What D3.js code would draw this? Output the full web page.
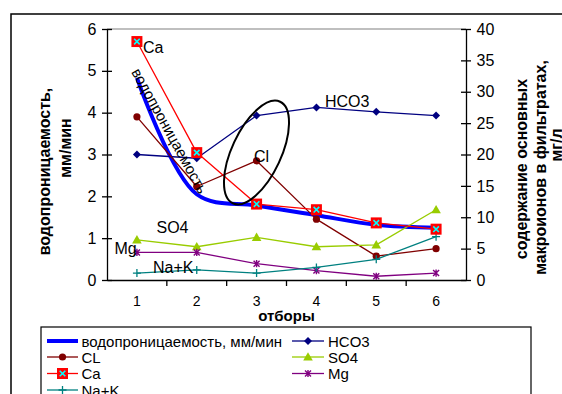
<!DOCTYPE html>
<html><head><meta charset="utf-8">
<script src="https://cdn.jsdelivr.net/npm/d3@7"></script>
<style>
html,body{margin:0;padding:0;background:#fff;}
svg{display:block;font-family:"Liberation Sans",Arial,sans-serif;}
</style></head>
<body>
<svg id="c" width="562" height="394"></svg>
<script>
// ---- data ----
const categories = ["1","2","3","4","5","6"];
const permeability = [4.83, 2.05, 1.78, 1.55, 1.32, 1.25];   // left axis, мм/мин
const hco3 = [20.0, 19.4, 26.2, 27.5, 26.8, 26.2];
const cl   = [26.0, 14.9, 19.0, 9.7, 3.8, 5.0];
const so4  = [6.4, 5.3, 6.8, 5.3, 5.6, 11.2];
const ca   = [38.0, 20.3, 12.1, 11.2, 9.1, 8.1];
const mg   = [4.4, 4.4, 2.6, 1.5, 0.6, 1.1];
const nak  = [1.1, 1.6, 1.1, 2.0, 3.3, 6.9];
const leftTicks = [0,1,2,3,4,5,6];
const rightTicks = [0,5,10,15,20,25,30,35,40];
const legendCol1 = ["водопроницаемость, мм/мин","CL","Ca","Na+K"];
const legendCol2 = ["HCO3","SO4","Mg"];

const svg = d3.select("#c");
const L = 107, R = 466, T = 29, B = 280;
const x = d3.scaleBand().domain(categories).range([L, R]);
const cx = c => x(c) + x.bandwidth()/2;
const yL = d3.scaleLinear().domain([0,6]).range([B,T]);
const yR = d3.scaleLinear().domain([0,40]).range([B,T]);

// outer chart frame
svg.append("rect").attr("x",11).attr("y",14).attr("width",600).attr("height",450)
  .attr("fill","none").attr("stroke","#000").attr("stroke-width",1.5);

// plot area top border
svg.append("line").attr("x1",L).attr("x2",R).attr("y1",T).attr("y2",T)
  .attr("stroke","#808080").attr("stroke-width",1.2);

// axes
const gl = svg.append("g").attr("transform",`translate(${L},0)`)
  .call(d3.axisLeft(yL).tickValues(leftTicks).tickSize(5).tickSizeOuter(0).tickPadding(5.5).tickFormat(d3.format("d")));
gl.selectAll(".tick line").attr("x1",5);
const gr = svg.append("g").attr("transform",`translate(${R},0)`)
  .call(d3.axisRight(yR).tickValues(rightTicks).tickSize(5).tickSizeOuter(0).tickPadding(5.5).tickFormat(d3.format("d")));
gr.selectAll(".tick line").attr("x1",-5);
[gl,gr].forEach(g=>{
  g.select(".domain").attr("stroke","#000").attr("stroke-width",1.3);
  g.selectAll(".tick line").attr("stroke","#000").attr("stroke-width",1.3);
  g.selectAll(".tick text").attr("font-size",16).attr("fill","#000").attr("font-family","Liberation Sans, Arial, sans-serif");
});
const gx = svg.append("g").attr("transform",`translate(0,${B})`)
  .call(d3.axisBottom(x).tickSize(0).tickPadding(16));
gx.select(".domain").attr("stroke","#000").attr("stroke-width",1.3);
gx.selectAll(".tick text").attr("font-size",14).attr("fill","#000").attr("font-family","Liberation Sans, Arial, sans-serif");
// category boundary ticks
gx.selectAll("line.bt").data(categories.slice(1)).join("line").attr("class","bt")
  .attr("x1",d=>x(d)).attr("x2",d=>x(d)).attr("y1",0).attr("y2",6)
  .attr("stroke","#000").attr("stroke-width",1.3);

// axis titles
svg.append("text").attr("x",286.5).attr("y",321).attr("text-anchor","middle")
  .attr("font-weight","bold").attr("font-size",15).text("отборы");
svg.append("text").attr("transform","translate(50,171.5) rotate(-90)").attr("text-anchor","middle")
  .attr("font-weight","bold").attr("font-size",16).text("водопроницаемость,");
svg.append("text").attr("transform","translate(71,148) rotate(-90)").attr("text-anchor","middle")
  .attr("font-weight","bold").attr("font-size",16).text("мм/мин");
svg.append("text").attr("transform","translate(527,169) rotate(-90)").attr("text-anchor","middle")
  .attr("font-weight","bold").attr("font-size",16).text("содержание основных");
svg.append("text").attr("transform","translate(546,167.5) rotate(-90)").attr("text-anchor","middle")
  .attr("font-weight","bold").attr("font-size",16).text("макроионов в фильтратах,");
svg.append("text").attr("transform","translate(562,145) rotate(-90)").attr("text-anchor","middle")
  .attr("font-weight","bold").attr("font-size",16).text("мг/л");

// marker drawers
const markers = {
  diamond: (g,col)=>g.append("path").attr("d","M0,-4L4,0L0,4L-4,0Z").attr("fill",col),
  circle: (g,col)=>g.append("circle").attr("r",3.6).attr("fill",col),
  triangle: (g,col)=>g.append("path").attr("d","M0,-4.8L4.8,3.6L-4.8,3.6Z").attr("fill",col),
  square: (g,col)=>{
    g.append("rect").attr("x",-5.5).attr("y",-5.5).attr("width",11).attr("height",11).attr("fill",col);
    g.append("path").attr("d","M-2.8,-2.8L2.8,2.8M-2.8,2.8L2.8,-2.8").attr("stroke","#00FFFF").attr("stroke-width",1.6);
  },
  star: (g,col)=>g.append("path").attr("d","M-3,-3L3,3M-3,3L3,-3M0,-3.6L0,3.6").attr("stroke",col).attr("stroke-width",1.4),
  plus: (g,col)=>g.append("path").attr("d","M-4,0L4,0M0,-4L0,4").attr("stroke",col).attr("stroke-width",1.3),
  none: ()=>{}
};

const series = [
  {name:"водопроницаемость, мм/мин", values:permeability, color:"#0000FF", width:4, marker:"none", axis:yL, smooth:true},
  {name:"HCO3", values:hco3, color:"#000080", width:1.3, marker:"diamond", axis:yR},
  {name:"CL", values:cl, color:"#800000", width:1.3, marker:"circle", axis:yR},
  {name:"SO4", values:so4, color:"#99CC00", width:1.3, marker:"triangle", axis:yR},
  {name:"Ca", values:ca, color:"#FF0000", width:1.3, marker:"square", axis:yR},
  {name:"Mg", values:mg, color:"#800080", width:1.3, marker:"star", axis:yR},
  {name:"Na+K", values:nak, color:"#008080", width:1.3, marker:"plus", axis:yR}
];
const byName = Object.fromEntries(series.map(s=>[s.name,s]));

const drawOrder = ["водопроницаемость, мм/мин","HCO3","CL","SO4","Mg","Na+K","Ca"];
drawOrder.forEach(n=>{
  const s = byName[n];
  const line = d3.line().x((d,i)=>cx(categories[i])).y(d=>s.axis(d));
  if (s.smooth) line.curve(d3.curveCatmullRom.alpha(0.5));
  svg.append("path").attr("d",line(s.values)).attr("fill","none")
    .attr("stroke",s.color).attr("stroke-width",s.width).attr("stroke-linejoin","round");
  s.values.forEach((v,i)=>{
    const g = svg.append("g").attr("transform",`translate(${cx(categories[i])},${s.axis(v)})`);
    markers[s.marker](g,s.color);
  });
});

// annotations
svg.append("ellipse").attr("cx",0).attr("cy",0).attr("rx",56).attr("ry",24.6)
  .attr("transform","translate(256.5,152.5) rotate(-65)")
  .attr("fill","none").attr("stroke","#000").attr("stroke-width",2);
const ann = [["Ca",143,53],["HCO3",325,107],["Cl",254,162],["SO4",156.5,232.5],["Mg",114.5,254],["Na+K",153,273]];
ann.forEach(a=>svg.append("text").attr("x",a[1]).attr("y",a[2]).attr("font-size",16).text(a[0]));
svg.append("text").attr("transform","translate(131,72) rotate(61)").attr("font-size",15)
  .text("водопроницаемость");

// legend
svg.append("rect").attr("x",41).attr("y",327).attr("width",490).attr("height",120)
  .attr("fill","#fff").attr("stroke","#000").attr("stroke-width",1.2);
const rowsY = [341, 357, 373.5, 390];
function legendItem(name, x0, x1, tx, y){
  const s = byName[name];
  svg.append("line").attr("x1",x0).attr("x2",x1).attr("y1",y).attr("y2",y)
    .attr("stroke",s.color).attr("stroke-width",s.width);
  const g = svg.append("g").attr("transform",`translate(${(x0+x1)/2},${y})`);
  markers[s.marker](g,s.color);
  svg.append("text").attr("x",tx).attr("y",y+5.5).attr("font-size",15).text(name);
}
legendCol1.forEach((n,i)=>legendItem(n,47,78,81.5,rowsY[i]));
legendCol2.forEach((n,i)=>legendItem(n,292,324,328,rowsY[i]));
</script>
</body></html>
